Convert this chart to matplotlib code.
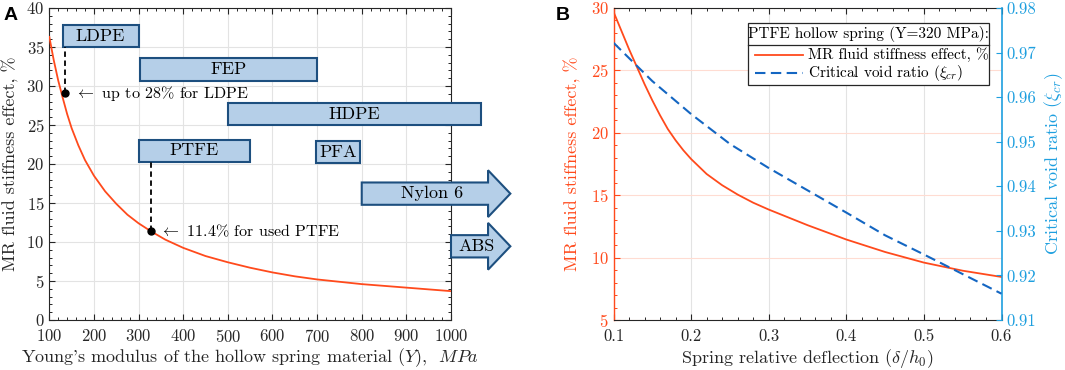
import matplotlib
matplotlib.use("Agg")
import matplotlib.pyplot as plt
from matplotlib.patches import Rectangle, Polygon
from matplotlib.ticker import MultipleLocator, FormatStrFormatter

# ---------------- data ----------------
# Panel A: MR fluid stiffness effect vs Young's modulus
young_modulus = [100, 105, 110, 120, 130, 140, 150, 165, 180, 200, 225, 250, 275,
                 300, 327, 360, 400, 450, 500, 550, 600, 650, 700, 800, 900, 1000]
stiffness_effect_A = [36.3, 34.8, 33.3, 30.7, 28.5, 26.4, 24.6, 22.4, 20.5, 18.5, 16.5,
                      14.9, 13.5, 12.4, 11.4, 10.3, 9.25, 8.2, 7.4, 6.7, 6.1, 5.6, 5.2,
                      4.6, 4.15, 3.7]
marked_Y = [135, 327]
marked_effect = [29.1, 11.4]
marked_labels = [r"$\leftarrow$ up to 28% for LDPE", r"$\leftarrow$ 11.4% for used PTFE"]

# material modulus ranges (boxes) and open-ended materials (arrows)
box_materials = ["LDPE", "FEP", "HDPE", "PTFE", "PFA"]
box_Y_min = [130, 303, 500, 300, 697]
box_Y_max = [300, 700, 1068, 550, 797]
arrow_materials = ["Nylon 6", "ABS"]
arrow_Y_min = [800, 1000]

# Panel B
deflection = [0.10, 0.11, 0.12, 0.13, 0.14, 0.15, 0.16, 0.17, 0.18, 0.19, 0.20, 0.22,
              0.24, 0.26, 0.28, 0.30, 0.35, 0.40, 0.45, 0.50, 0.55, 0.60]
stiffness_effect_B = [29.7, 28.2, 26.7, 25.3, 23.9, 22.6, 21.4, 20.3, 19.4, 18.6, 17.9,
                      16.7, 15.8, 15.05, 14.4, 13.85, 12.6, 11.45, 10.45, 9.6, 8.95, 8.45]
deflection_void = [0.10, 0.15, 0.20, 0.25, 0.30, 0.35, 0.40, 0.45, 0.50, 0.55, 0.60]
critical_void = [0.9722, 0.9636, 0.9562, 0.9495, 0.9441, 0.9391, 0.9341, 0.9290,
                 0.9247, 0.9203, 0.9159]

# ---------------- layout / style ----------------
box_y_center = [36.4, 32.1, 26.4, 21.7, 21.55]
arrow_y_center = [16.2, 9.45]
box_half_h = 1.43
head_half_h = 3.0
arrow_head_start = 1083
arrow_tip = 1133

RED = "#FF4A1C"
BLUE_AX = "#1E9FDF"
BLUE_LN = "#1466C2"
DARK = "#262626"
BOX_FC = "#B5CFE8"
BOX_EC = "#1D4F7F"

plt.rcParams["font.family"] = ["cmr10", "DejaVu Serif"]
plt.rcParams["mathtext.fontset"] = "cm"
plt.rcParams["axes.unicode_minus"] = False
plt.rcParams["axes.formatter.use_mathtext"] = True

W, H = 1065, 370
fig = plt.figure(figsize=(W / 100, H / 100), dpi=100)


def frac(x0, y0, x1, y1):
    return [x0 / W, (H - y1) / H, (x1 - x0) / W, (y1 - y0) / H]


FS = 12

# ================= Panel A =================
axA = fig.add_axes(frac(49.3, 8, 451, 320))
axA.plot(young_modulus, stiffness_effect_A, color=RED, lw=1.3, zorder=3)
axA.set_xlim(100, 1000)
axA.set_ylim(0, 40)
axA.xaxis.set_major_locator(MultipleLocator(100))
axA.xaxis.set_minor_locator(MultipleLocator(20))
axA.yaxis.set_major_locator(MultipleLocator(5))
axA.yaxis.set_minor_locator(MultipleLocator(1))
axA.grid(True, which="major", color="#E3E3E3", lw=0.8, zorder=0)
axA.set_axisbelow(True)
axA.tick_params(which="both", direction="in", top=True, right=True, colors=DARK,
                labelsize=FS)
axA.tick_params(which="major", length=4, width=0.8)
axA.tick_params(which="minor", length=2.2, width=0.7)
axA.tick_params(axis="x", pad=6)
for s in axA.spines.values():
    s.set_color(DARK)
    s.set_linewidth(0.8)
axA.set_xlabel(r"Young's modulus of the hollow spring material $(Y)$,  $MPa$",
               fontsize=FS + 1, color=DARK)
axA.set_ylabel("MR fluid stiffness effect, %", fontsize=FS + 1, color=DARK)
axA.yaxis.set_label_coords(-0.075, 0.5)
axA.xaxis.set_label_coords(0.5, -0.085)

# boxes
for name, y0, y1, yc in zip(box_materials, box_Y_min, box_Y_max, box_y_center):
    axA.add_patch(Rectangle((y0, yc - box_half_h), y1 - y0, 2 * box_half_h,
                            fc=BOX_FC, ec=BOX_EC, lw=1.5, zorder=4, clip_on=False))
    axA.text((y0 + y1) / 2, yc, name, ha="center", va="center", fontsize=FS + 1,
             zorder=5, clip_on=False)
# arrows
for name, y0, yc in zip(arrow_materials, arrow_Y_min, arrow_y_center):
    pts = [(y0, yc - box_half_h), (arrow_head_start, yc - box_half_h),
           (arrow_head_start, yc - head_half_h), (arrow_tip, yc),
           (arrow_head_start, yc + head_half_h), (arrow_head_start, yc + box_half_h),
           (y0, yc + box_half_h)]
    axA.add_patch(Polygon(pts, closed=True, fc=BOX_FC, ec=BOX_EC, lw=1.5, zorder=4,
                          clip_on=False))
    axA.text((y0 + arrow_tip) / 2 - 10, yc, name, ha="center", va="center",
             fontsize=FS + 1, zorder=5, clip_on=False)

# dashed drop lines + markers
drop_tops = [box_y_center[0] - box_half_h, box_y_center[3] - box_half_h]
for xm, ym, yt, lab in zip(marked_Y, marked_effect, drop_tops, marked_labels):
    axA.plot([xm, xm], [ym, yt], color="black", lw=1.3, ls=(0, (3, 2)), zorder=4)
    axA.plot([xm], [ym], "o", color="black", ms=5, zorder=6)
    axA.annotate(lab, xy=(xm, ym), xytext=(7, 0), textcoords="offset points",
                 ha="left", va="center", fontsize=11.5, color="black", zorder=6)

fig.text(4 / W, 1 - 15 / H, "A", family="Liberation Sans", weight="bold",
         fontsize=14, va="center", ha="left")

# ================= Panel B =================
axB = fig.add_axes(frac(613.5, 8, 1001.5, 320))
axB2 = axB.twinx()
axB.plot(deflection, stiffness_effect_B, color=RED, lw=1.3, zorder=3)
axB2.plot(deflection_void, critical_void, color=BLUE_LN, lw=1.5,
          dashes=(5, 2.6), zorder=3)

axB.set_xlim(0.1, 0.6)
axB.set_ylim(5, 30)
axB2.set_ylim(0.91, 0.98)
axB.xaxis.set_major_locator(MultipleLocator(0.1))
axB.xaxis.set_minor_locator(MultipleLocator(0.02))
axB.yaxis.set_major_locator(MultipleLocator(5))
axB.yaxis.set_minor_locator(MultipleLocator(1))
axB2.yaxis.set_major_locator(MultipleLocator(0.01))
axB.xaxis.set_major_formatter(FormatStrFormatter("%.1f"))
axB2.yaxis.set_major_formatter(FormatStrFormatter("%.2f"))

axB.xaxis.grid(True, which="major", color="#E3E3E3", lw=0.8)
axB.yaxis.grid(True, which="major", color="#FFDCD2", lw=0.8)
axB.set_axisbelow(True)

axB.tick_params(axis="x", which="both", direction="in", top=True, colors=DARK,
                labelsize=FS, pad=6)
axB.tick_params(axis="y", which="both", direction="in", colors=RED, labelsize=FS)
axB.tick_params(which="major", length=4, width=0.8)
axB.tick_params(which="minor", length=2.2, width=0.7)
axB2.tick_params(axis="y", which="both", direction="in", colors=BLUE_AX,
                 labelsize=FS, length=4, width=0.8)

for key in ("top", "bottom"):
    axB.spines[key].set_color(DARK)
    axB.spines[key].set_linewidth(0.8)
axB.spines["left"].set_color(RED)
axB.spines["left"].set_linewidth(1.0)
axB.spines["right"].set_visible(False)
axB2.spines["left"].set_visible(False)
axB2.spines["top"].set_visible(False)
axB2.spines["bottom"].set_visible(False)
axB2.spines["right"].set_color(BLUE_AX)
axB2.spines["right"].set_linewidth(1.2)

axB.set_xlabel(r"Spring relative deflection $(\delta/h_0)$", fontsize=FS + 1, color=DARK)
axB.set_ylabel("MR fluid stiffness effect, %", fontsize=FS + 1, color=RED)
axB2.set_ylabel(r"Critical void ratio $(\xi_{cr})$", fontsize=FS + 1, color=BLUE_AX)
axB.yaxis.set_label_coords(-0.085, 0.5)
axB2.yaxis.set_label_coords(1.105, 0.5)
axB.xaxis.set_label_coords(0.5, -0.085)

# legend (manual, MATLAB-style with title separator)
LFS = 11
lx0, lx1 = 0.3466, 0.9678
ly0, ly1, lsep = 0.753, 0.951, 0.881
tr = axB2.transAxes
axB2.add_patch(Rectangle((lx0, ly0), lx1 - lx0, ly1 - ly0, transform=tr, fc="white",
                         ec=DARK, lw=0.9, zorder=10))
axB2.plot([lx0, lx1], [lsep, lsep], transform=tr, color=DARK, lw=0.9, zorder=11)
axB2.text((lx0 + lx1) / 2, (ly1 + lsep) / 2, "PTFE hollow spring (Y=320 MPa):",
          transform=tr, ha="center", va="center", fontsize=LFS, zorder=11)
axB2.plot([0.365, 0.488], [0.849, 0.849], transform=tr, color=RED, lw=1.3, zorder=11)
axB2.plot([0.365, 0.488], [0.791, 0.791], transform=tr, color=BLUE_LN, lw=1.5,
          dashes=(5, 2.6), zorder=11)
axB2.text(0.501, 0.849, "MR fluid stiffness effect, %", transform=tr, ha="left",
          va="center", fontsize=LFS, zorder=11)
axB2.text(0.501, 0.791, r"Critical void ratio $(\xi_{cr})$", transform=tr, ha="left",
          va="center", fontsize=LFS, zorder=11)

fig.text(556 / W, 1 - 15 / H, "B", family="Liberation Sans", weight="bold",
         fontsize=14, va="center", ha="left")

fig.savefig("out.png", dpi=100)
